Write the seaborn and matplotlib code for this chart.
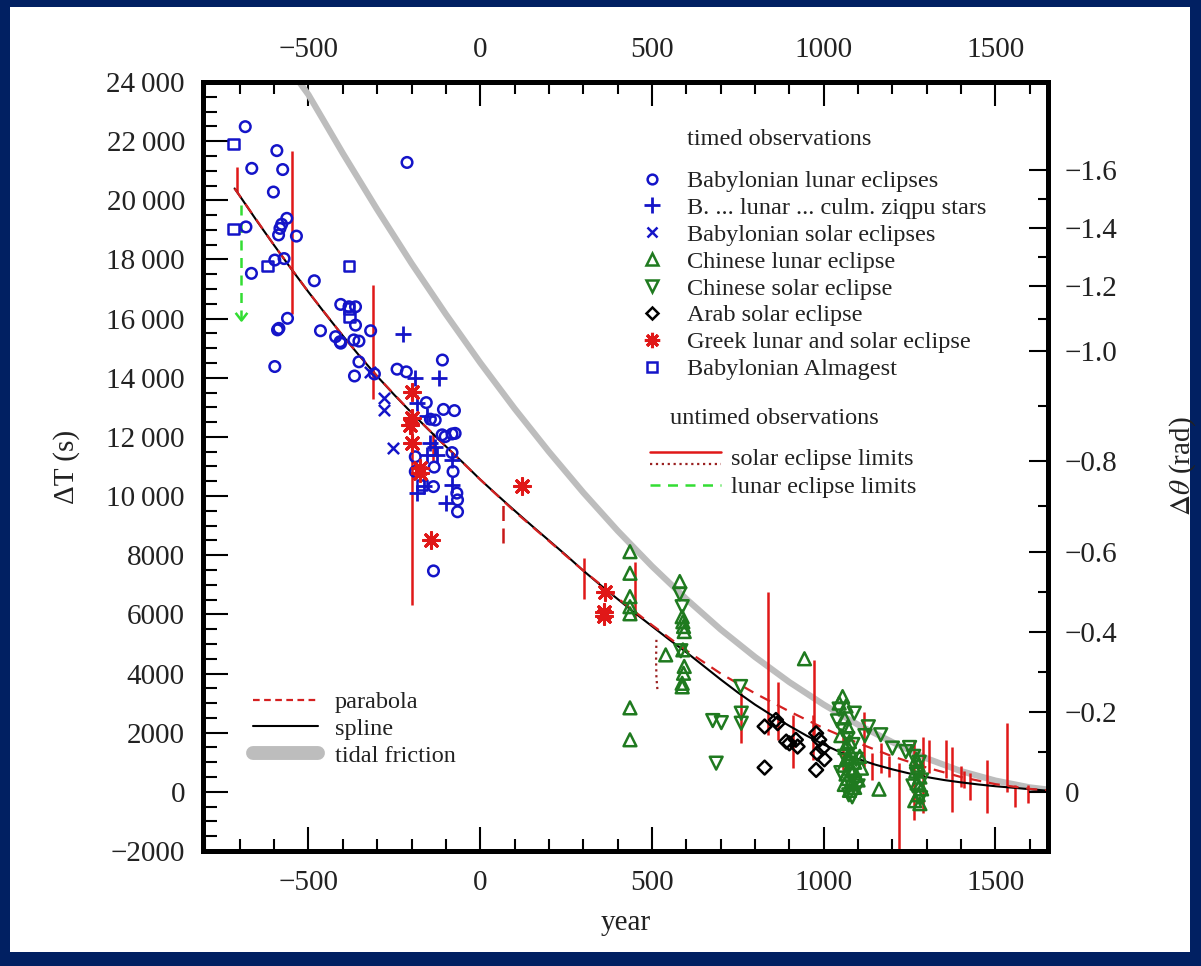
import numpy as np
import matplotlib
matplotlib.use("Agg")
import matplotlib.pyplot as plt
import seaborn as sns
from matplotlib.lines import Line2D
from matplotlib.legend_handler import HandlerBase
from matplotlib.patches import Rectangle
from matplotlib.path import Path
from matplotlib.ticker import MultipleLocator, FixedLocator

# ---------------- timed observations (year, Delta T in seconds) ----------------
bab_lunar_year = [-684, -592, -665, -575, -602, -213, -682, -563, -578, -583, -587, -535,
                  -666, -598, -571, -483, -406, -382, -363, -363, -561, -590, -586, -598,
                  -465, -421, -408, -406, -368, -353, -319, -353, -366, -308, -242, -215,
                  -110, -157, -107, -75, -145, -131, -111, -102, -82, -73, -189, -82,
                  -189, -134, -79, -136, -68, -66, -66, -136]
bab_lunar_dt = [22490, 21680, 21080, 21040, 20280, 21280, 19100, 19390, 19190, 19050, 18830, 18790,
                17530, 17980, 18030, 17280, 16480, 16400, 16400, 15780, 16010, 15620, 15670, 14380,
                15590, 15390, 15220, 15170, 15280, 15240, 15590, 14540, 14060, 14130, 14290, 14200,
                14600, 13160, 12930, 12890, 12600, 12570, 12070, 12010, 12100, 12120, 11330, 11470,
                10830, 10980, 10830, 10320, 10100, 9870, 9470, 7470]

ziqpu_year = [-225, -191, -121, -184, -155, -145, -131, -155, -126, -82, -165, -184, -82, -99]
ziqpu_dt = [15480, 13980, 13980, 13160, 12710, 11790, 11670, 11390, 11390, 11220, 10340, 10100, 10380, 9780]

bab_solar_year = [-321, -281, -281, -254]
bab_solar_dt = [14210, 13310, 12910, 11620]

chn_lunar_year = [436, 436, 436, 436, 436, 436, 436, 581, 588, 590, 592, 594, 590, 594, 592, 588,
                  588, 540, 944, 1161,
                  1055, 1045, 1065, 1060, 1070, 1050, 1075, 1062, 1080, 1068, 1090, 1058, 1075,
                  1085, 1065, 1095, 1070, 1080, 1060, 1090, 1075, 1100, 1110, 1105,
                  1270, 1275, 1268, 1280, 1272, 1285, 1275, 1265, 1280]
chn_lunar_dt = [8120, 7390, 6600, 6260, 6020, 2840, 1760, 7110, 5920, 5750, 5590, 5420, 4800, 4240, 4010, 3670,
                3550, 4630, 4500, 90,
                3220, 3000, 2900, 2500, 2200, 1900, 1700, 1500, 1300, 1150, 1000, 900, 800,
                700, 600, 550, 450, 350, 250, 150, 50, 400, 800, 1200,
                1100, 900, 700, 500, 300, 100, -100, -300, -400]

chn_solar_year = [581, 588, 584, 758, 760, 760, 677, 702, 687, 1089, 1166, 1200, 1239,
                  1045, 1040, 1055, 1070, 1085, 1060, 1095, 1078, 1050, 1090, 1073, 1083, 1100,
                  1120, 1130, 1262, 1278, 1270, 1285, 1260, 1282, 1250]
chn_solar_dt = [6690, 6260, 4770, 3560, 2660, 2320, 2410, 2340, 970, 2660, 1930, 1480, 1360,
                2800, 2400, 2100, 1800, 1600, 1200, 1100, 950, 650, 300, -100, -170, 200,
                1900, 2200, 1200, 1000, 600, 400, 200, -200, 1500]

arab_year = [828, 861, 866, 891, 900, 919, 924, 828, 978, 987, 997, 982, 1002, 978]
arab_dt = [2210, 2430, 2320, 1700, 1640, 1760, 1530, 820, 1980, 1760, 1480, 1300, 1100, 740]

greek_year = [-200, -198, -203, -200, -174, -176, -142, 123, 363, 361, 361]
greek_dt = [13530, 12630, 12400, 11790, 10940, 10770, 8520, 10340, 6740, 6080, 5960]

almagest_year = [-719, -719, -619, -382, -382, -380, -170]
almagest_dt = [21900, 19030, 17780, 17780, 16350, 16080, 10370]

# ---------------- untimed observations: ranges of Delta T ----------------
solar_lim_year = [-709, -548, -312, -198, -136, 303, 450, 758, 837, 868, 910, 968, 973,
                  1057, 1118, 1140, 1166, 1190, 1218, 1263, 1289, 1307, 1355, 1374, 1399,
                  1408, 1427, 1476, 1534, 1556, 1594]
solar_lim_lo = [20290, 16150, 13270, 6320, 11160, 6510, 5810, 1640, 1920, 1760, 800, 1080, 1870,
                740, 850, 400, 630, 500, -1950, -950, -720, 640, 460, -670, 180,
                120, -270, -720, 10, -500, -380]
solar_lim_hi = [21110, 21670, 17140, 12680, 12120, 7890, 7780, 3340, 6770, 3730, 2600, 2600, 4460,
                2100, 2710, 1300, 1640, 1200, 970, 1760, 1870, 1760, 1760, 1530, 860,
                690, 630, 1080, 2320, 240, 240]

solar_dotted_year = [513, 512, 513, 516]
solar_dotted_dt = [5140, 4480, 3870, 3450]

solar_dashed_year = [65]
solar_dashed_lo = [8400]
solar_dashed_hi = [9760]

lunar_lim_year = [-695]
lunar_lim_hi = [20000]
lunar_lim_lo = [15950]

# ---------------- fitted curves ----------------
spline_year = [-715, -700, -650, -600, -550, -500, -450, -400, -350, -300, -250, -200, -150,
               -100, -50, 0, 50, 100, 150, 200, 250, 300, 350, 400, 450, 500, 550, 600, 650,
               700, 750, 800, 850, 900, 950, 1000, 1050, 1100, 1150, 1200, 1250, 1300, 1350,
               1400, 1450, 1500, 1550, 1600, 1650]
spline_dt = [20400, 20150, 19300, 18480, 17680, 16900, 16150, 15420, 14720, 14050, 13420, 12820, 12240,
             11680, 11130, 10560, 10030, 9510, 9000, 8500, 8000, 7480, 6990, 6520, 6050, 5600, 5150, 4720, 4260,
             3800, 3360, 2950, 2580, 2230, 1900, 1600, 1330, 1110, 920, 760, 620, 500, 400,
             320, 250, 190, 140, 90, 40]

parabola_year = [-715, -700, -600, -500, -400, -300, -200, -100, 0, 100, 200, 300, 400, 500, 600,
                 700, 800, 900, 1000, 1100, 1200, 1300, 1400, 1500, 1600, 1650]
parabola_dt = [20400, 20150, 18480, 16900, 15420, 14050, 12820, 11680, 10560, 9480, 8480, 7480, 6550,
               5640, 4780, 4000, 3330, 2720, 2150, 1650, 1200, 820, 500, 260, 100, 50]

tidal_year = [-530, -500, -400, -300, -200, -100, 0, 100, 200, 300, 400, 500, 600, 700, 800,
              900, 1000, 1100, 1200, 1300, 1400, 1500, 1600, 1650]
tidal_dt = [24050, 23570, 21590, 19690, 17870, 16150, 14510, 12960, 11500, 10120, 8830, 7630, 6520,
            5490, 4560, 3710, 2950, 2270, 1680, 1130, 700, 380, 150, 80]

# ---------------- axes ticks ----------------
year_ticks = [-500, 0, 500, 1000, 1500]
year_labels = ["\u2212500", "0", "500", "1000", "1500"]
dt_ticks = [-2000, 0, 2000, 4000, 6000, 8000, 10000, 12000, 14000, 16000, 18000, 20000, 22000, 24000]
dt_labels = ["\u22122000", "0", "2000", "4000", "6000", "8000", "10\u2009000", "12\u2009000",
             "14\u2009000", "16\u2009000", "18\u2009000", "20\u2009000", "22\u2009000", "24\u2009000"]
rad_tick_dt = [0, 2700, 5410, 8110, 11190, 14900, 17090, 19060, 21020]
rad_labels = ["0", "\u22120.2", "\u22120.4", "\u22120.6", "\u22120.8", "\u22121.0",
              "\u22121.2", "\u22121.4", "\u22121.6"]

# ---------------- style ----------------
sns.set_theme(style="white")
plt.rcParams.update({
    "font.family": ["Liberation Serif", "DejaVu Serif"],
    "mathtext.fontset": "stix",
    "text.color": "#222222",
    "axes.labelcolor": "#222222",
    "xtick.color": "black",
    "ytick.color": "black",
    "xtick.labelcolor": "#222222",
    "ytick.labelcolor": "#222222",
    "axes.edgecolor": "black",
})

BLUE = "#1414c8"
GREEN = "#1f7a1f"
RED = "#e01818"
DARKRED = "#9a2020"
LGREEN = "#33dd33"
GREY = "#bdbdbd"
NAVY = "#012062"

W, H = 1201, 966
fig = plt.figure(figsize=(W / 100, H / 100), dpi=100, facecolor=NAVY)
fig.add_artist(Rectangle((10 / W, 14 / H), 1180 / W, 945 / H, transform=fig.transFigure,
                         facecolor="white", edgecolor="none", zorder=-5))

L, R, T, B = 203, 1048, 82, 851
ax = fig.add_axes([L / W, 1 - B / H, (R - L) / W, (B - T) / H])
ax.set_facecolor("white")

# curves
sns.lineplot(x=tidal_year, y=tidal_dt, color=GREY, linewidth=4.5, ax=ax, estimator=None,
             sort=False, zorder=1)
sns.lineplot(x=spline_year, y=spline_dt, color="black", linewidth=1.5, ax=ax, estimator=None,
             sort=False, zorder=4)
sns.lineplot(x=parabola_year, y=parabola_dt, color="#d42020", linewidth=1.6, linestyle=(0, (5, 3.5)),
             ax=ax, estimator=None, sort=False, zorder=4)

# untimed eclipse limits
ax.vlines(solar_lim_year, solar_lim_lo, solar_lim_hi, color=RED, linewidth=1.8, zorder=3)
ax.vlines(solar_dashed_year, solar_dashed_lo, solar_dashed_hi, color="#c81818", linewidth=1.8,
          linestyles=[(0, (6, 3))], zorder=3)
sns.lineplot(x=solar_dotted_year, y=solar_dotted_dt, color=DARKRED, linewidth=1.6, linestyle=":",
             ax=ax, estimator=None, sort=False, zorder=3)
ax.vlines(lunar_lim_year, lunar_lim_lo, lunar_lim_hi, color=LGREEN, linewidth=1.8,
          linestyles=[(0, (4, 3))], zorder=3)
vhead = Path([(-1, 1.3), (0, 0), (1, 1.3)], [Path.MOVETO, Path.LINETO, Path.LINETO])
ax.plot(lunar_lim_year, lunar_lim_lo, marker=vhead, ms=11, mfc="none", mec=LGREEN, mew=1.8,
        ls="none", zorder=3)

# timed observations
open_kw = dict(facecolor="none", linewidth=1.8, legend=False, ax=ax, zorder=5)
sns.scatterplot(x=bab_lunar_year, y=bab_lunar_dt, marker="o", s=58, edgecolor=BLUE, **open_kw)
sns.scatterplot(x=almagest_year, y=almagest_dt, marker="s", s=58, edgecolor=BLUE, **open_kw)
sns.scatterplot(x=chn_lunar_year, y=chn_lunar_dt, marker="^", s=85, edgecolor=GREEN, **open_kw)
sns.scatterplot(x=chn_solar_year, y=chn_solar_dt, marker="v", s=85, edgecolor=GREEN, **open_kw)
sns.scatterplot(x=arab_year, y=arab_dt, marker="D", s=50, edgecolor="black", **open_kw)
sns.scatterplot(x=ziqpu_year, y=ziqpu_dt, marker="+", s=140, color=BLUE, linewidth=2,
                legend=False, ax=ax, zorder=5)
sns.scatterplot(x=bab_solar_year, y=bab_solar_dt, marker="x", s=65, color=BLUE, linewidth=1.8,
                legend=False, ax=ax, zorder=5)
sns.scatterplot(x=greek_year, y=greek_dt, marker=(8, 2, 0), s=130, color=RED, linewidth=2.2,
                legend=False, ax=ax, zorder=5)

# axes, ticks
ax.set_xlim(-807, 1653)
ax.set_ylim(-2000, 24000)
ax.xaxis.set_major_locator(FixedLocator(year_ticks))
ax.set_xticklabels(year_labels)
ax.xaxis.set_minor_locator(MultipleLocator(100))
ax.yaxis.set_major_locator(FixedLocator(dt_ticks))
ax.set_yticklabels(dt_labels)
ax.yaxis.set_minor_locator(MultipleLocator(500))
ax.tick_params(axis="both", which="both", direction="in", labelsize=21)
ax.tick_params(axis="x", which="both", top=True, bottom=True, labeltop=True, labelbottom=True)
ax.tick_params(axis="x", which="major", length=17, width=1.5, pad=14)
ax.tick_params(axis="x", which="minor", length=8.5, width=1.5)
ax.tick_params(axis="y", which="major", left=True, right=False, length=18, width=1.5, pad=13)
ax.tick_params(axis="y", which="minor", left=True, right=False, length=10, width=1.5)
for sp in ax.spines.values():
    sp.set_linewidth(3.6)
    sp.set_color("black")
ax.grid(False)

ax.set_xlabel("year", fontsize=21, labelpad=10)
ax.set_ylabel("\u0394T (s)", fontsize=21)
ax.yaxis.set_label_coords(-0.146, 0.5)

ax2 = ax.twinx()
ax2.set_ylim(ax.get_ylim())
ax2.yaxis.set_major_locator(FixedLocator(rad_tick_dt))
ax2.set_yticklabels(rad_labels)
ax2.yaxis.set_minor_locator(FixedLocator(
    [(a + b) / 2 for a, b in zip(rad_tick_dt[:-1], rad_tick_dt[1:])]))
ax2.tick_params(axis="y", which="both", direction="in", labelsize=21)
ax2.tick_params(axis="y", which="major", length=14, width=1.5, pad=12)
ax2.tick_params(axis="y", which="minor", length=7, width=1.5)
for sp in ax2.spines.values():
    sp.set_linewidth(3.6)
    sp.set_color("black")
ax2.grid(False)
ax2.set_ylabel(r"$\Delta\theta$ (rad)", fontsize=21)
ax2.yaxis.set_label_coords(1.141, 0.5)

# legends
fs = 17.5


def fx(px):
    return px / W


def fy(py):
    return 1 - py / H


timed_handles = [
    Line2D([], [], ls="none", marker="o", ms=7, mfc="none", mec=BLUE, mew=1.8),
    Line2D([], [], ls="none", marker="+", ms=11, color=BLUE, mew=2),
    Line2D([], [], ls="none", marker="x", ms=7, color=BLUE, mew=1.8),
    Line2D([], [], ls="none", marker="^", ms=8, mfc="none", mec=GREEN, mew=1.8),
    Line2D([], [], ls="none", marker="v", ms=8, mfc="none", mec=GREEN, mew=1.8),
    Line2D([], [], ls="none", marker="D", ms=6.5, mfc="none", mec="black", mew=1.8),
    Line2D([], [], ls="none", marker=(8, 2, 0), ms=11, color=RED, mew=2.2),
    Line2D([], [], ls="none", marker="s", ms=7, mfc="none", mec=BLUE, mew=1.8),
]
timed_labels = ["Babylonian lunar eclipses", "B. ... lunar ... culm. ziqpu stars",
                "Babylonian solar eclipses", "Chinese lunar eclipse", "Chinese solar eclipse",
                "Arab solar eclipse", "Greek lunar and solar eclipse", "Babylonian Almagest"]
leg1 = ax.legend(timed_handles, timed_labels, loc="upper left", bbox_to_anchor=(fx(640), fy(170)),
                 bbox_transform=fig.transFigure, frameon=False, fontsize=fs, handlelength=1.0,
                 handletextpad=0.95, labelspacing=0.2, borderpad=0, borderaxespad=0)
ax.add_artist(leg1)


class SolarLimitHandler(HandlerBase):
    def create_artists(self, legend, orig_handle, xdescent, ydescent, width, height, fontsize, trans):
        top = Line2D([-xdescent, width - xdescent], [height * 0.78 - ydescent] * 2, color=RED, lw=1.8,
                     transform=trans)
        bot = Line2D([-xdescent, width - xdescent], [height * 0.05 - ydescent] * 2, color=DARKRED,
                     lw=1.6, ls=":", transform=trans)
        return [top, bot]


solar_handle = Line2D([], [], color=RED)
lunar_handle = Line2D([], [], color=LGREEN, lw=1.8, ls=(0, (4, 3)))
leg2 = ax.legend([solar_handle, lunar_handle], ["solar eclipse limits", "lunar eclipse limits"],
                 handler_map={solar_handle: SolarLimitHandler()},
                 loc="upper left", bbox_to_anchor=(fx(650), fy(448)), bbox_transform=fig.transFigure,
                 frameon=False, fontsize=fs, handlelength=2.92, handletextpad=0.42, labelspacing=0.25,
                 borderpad=0, borderaxespad=0)
ax.add_artist(leg2)

fit_handles = [
    Line2D([], [], color="#d42020", lw=1.6, ls=(0, (3, 2))),
    Line2D([], [], color="black", lw=1.5),
    Line2D([], [], color=GREY, lw=10, solid_capstyle="round"),
]
leg3 = ax.legend(fit_handles, ["parabola", "spline", "tidal friction"], loc="upper left",
                 bbox_to_anchor=(fx(253), fy(691)), bbox_transform=fig.transFigure, frameon=False,
                 fontsize=fs, handlelength=2.67, handletextpad=0.7, labelspacing=0.2,
                 borderpad=0, borderaxespad=0)

fig.text(fx(687), fy(139), "timed observations", fontsize=fs, va="center", ha="left")
fig.text(fx(670), fy(418), "untimed observations", fontsize=fs, va="center", ha="left")

fig.savefig("out.png", dpi=100, facecolor=NAVY)
